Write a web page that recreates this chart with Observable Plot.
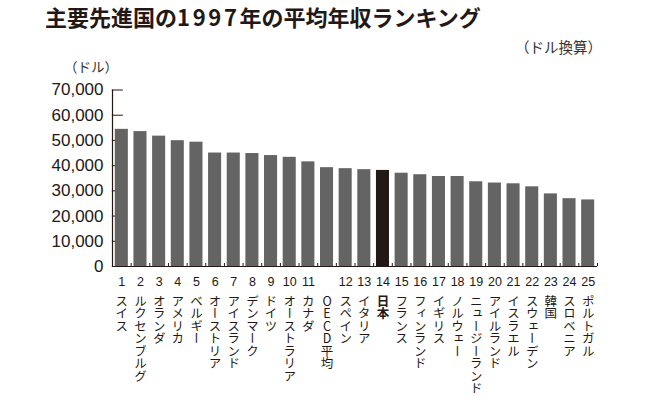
<!DOCTYPE html>
<html>
<head>
<meta charset="utf-8">
<script src="https://cdn.jsdelivr.net/npm/d3@7"></script>
<script src="https://cdn.jsdelivr.net/npm/@observablehq/plot@0.6"></script>
<style>
  html, body { margin: 0; padding: 0; background: #fff; }
  #wrap { position: relative; width: 662px; height: 402px; overflow: hidden; font-family: "Noto Sans CJK JP", sans-serif; color: #231815; }
  #title { position: absolute; left: 45px; top: 5px; font-size: 22px; line-height: 22px; font-weight: 700; white-space: nowrap; }
  #title .num { letter-spacing: 0.12em; }
  #unit { position: absolute; right: 60px; top: 36px; font-size: 14.5px; color: #333; white-space: nowrap; }
  #yunit { position: absolute; left: 64px; top: 56px; font-size: 13.5px; color: #333; white-space: nowrap; }
  #chart { position: absolute; left: 0; top: 0; }
  g[aria-description="vlabel"] text { writing-mode: vertical-rl; text-orientation: upright; }
</style>
</head>
<body>
<div id="wrap">
  <div id="chart"></div>
  <div id="title">主要先進国の<span class="num">1997</span>年の平均年収ランキング</div>
  <div id="unit">（ドル換算）</div>
  <div id="yunit">（ドル）</div>
</div>
<script>
const ranks = ["1","2","3","4","5","6","7","8","9","10","11","","12","13","14","15","16","17","18","19","20","21","22","23","24","25"];
const countries = ["スイス","ルクセンブルグ","オランダ","アメリカ","ベルギー","オーストリア","アイスランド","デンマーク","ドイツ","オーストラリア","カナダ","OECD平均","スペイン","イタリア","日本","フランス","フィンランド","イギリス","ノルウェー","ニュージーランド","アイルランド","イスラエル","スウェーデン","韓国","スロベニア","ポルトガル"];
const incomes = [54400,53500,51700,49900,49300,45000,45000,44800,44000,43300,41500,39200,38800,38400,38100,37000,36400,35700,35700,33600,33100,32800,31600,28800,26900,26400];
const yTicks = [0,10000,20000,30000,40000,50000,60000,70000];
const highlight = "日本";

const data = countries.map((c, i) => ({country: c, rank: ranks[i], income: incomes[i]}));

const marginLeft = 112, marginRight = 65, width = 662;
const step = (width - marginLeft - marginRight) / countries.length;
const ink = "#231815";

const chart = Plot.plot({
  width: 662,
  height: 402,
  marginLeft,
  marginRight,
  marginTop: 89.5,
  marginBottom: 136,
  style: {fontFamily: "'Liberation Sans', 'Noto Sans CJK JP', sans-serif", color: ink, background: "transparent"},
  x: {domain: countries, paddingInner: 0.3, paddingOuter: 0.15, round: false, axis: null},
  y: {domain: [0, 70000], axis: null},
  marks: [
    Plot.tickY(yTicks, {y: d => d, x: () => countries[0], dx: -3, insetRight: 2, stroke: ink, strokeWidth: 1}),
    Plot.barY(data, {x: "country", y: "income", fill: d => d.country === highlight ? ink : "#646464"}),
    Plot.ruleY([0], {stroke: ink, strokeWidth: 1.2}),
    Plot.ruleX([countries[0]], {x: d => d, y1: 0, y2: 70000, dx: -step / 2, stroke: ink, strokeWidth: 1.2}),
    Plot.ruleX(countries, {x: d => d, y1: 0, y2: 1200, dx: step / 2, stroke: ink, strokeWidth: 1}),
    Plot.axisY({ticks: yTicks, tickSize: 0, tickPadding: 9, tickFormat: d3.format(","), fontSize: 17, label: null, fill: ink}),
    Plot.text(data, {x: "country", text: "rank", frameAnchor: "bottom", lineAnchor: "middle", dy: 15, fontSize: 12.5, fill: ink}),
    Plot.text(data.filter(d => d.country !== highlight), {x: "country", text: "country", frameAnchor: "bottom", lineAnchor: "bottom", textAnchor: "start", dy: 28, fontSize: 12.5, fill: ink, fontFamily: "Noto Sans CJK JP", ariaDescription: "vlabel"}),
    Plot.text(data.filter(d => d.country === highlight), {x: "country", text: "country", frameAnchor: "bottom", lineAnchor: "bottom", textAnchor: "start", dy: 28, fontSize: 12.5, fontWeight: 700, fill: ink, fontFamily: "Noto Sans CJK JP", ariaDescription: "vlabel"})
  ]
});
document.getElementById("chart").appendChild(chart);
</script>
</body>
</html>
